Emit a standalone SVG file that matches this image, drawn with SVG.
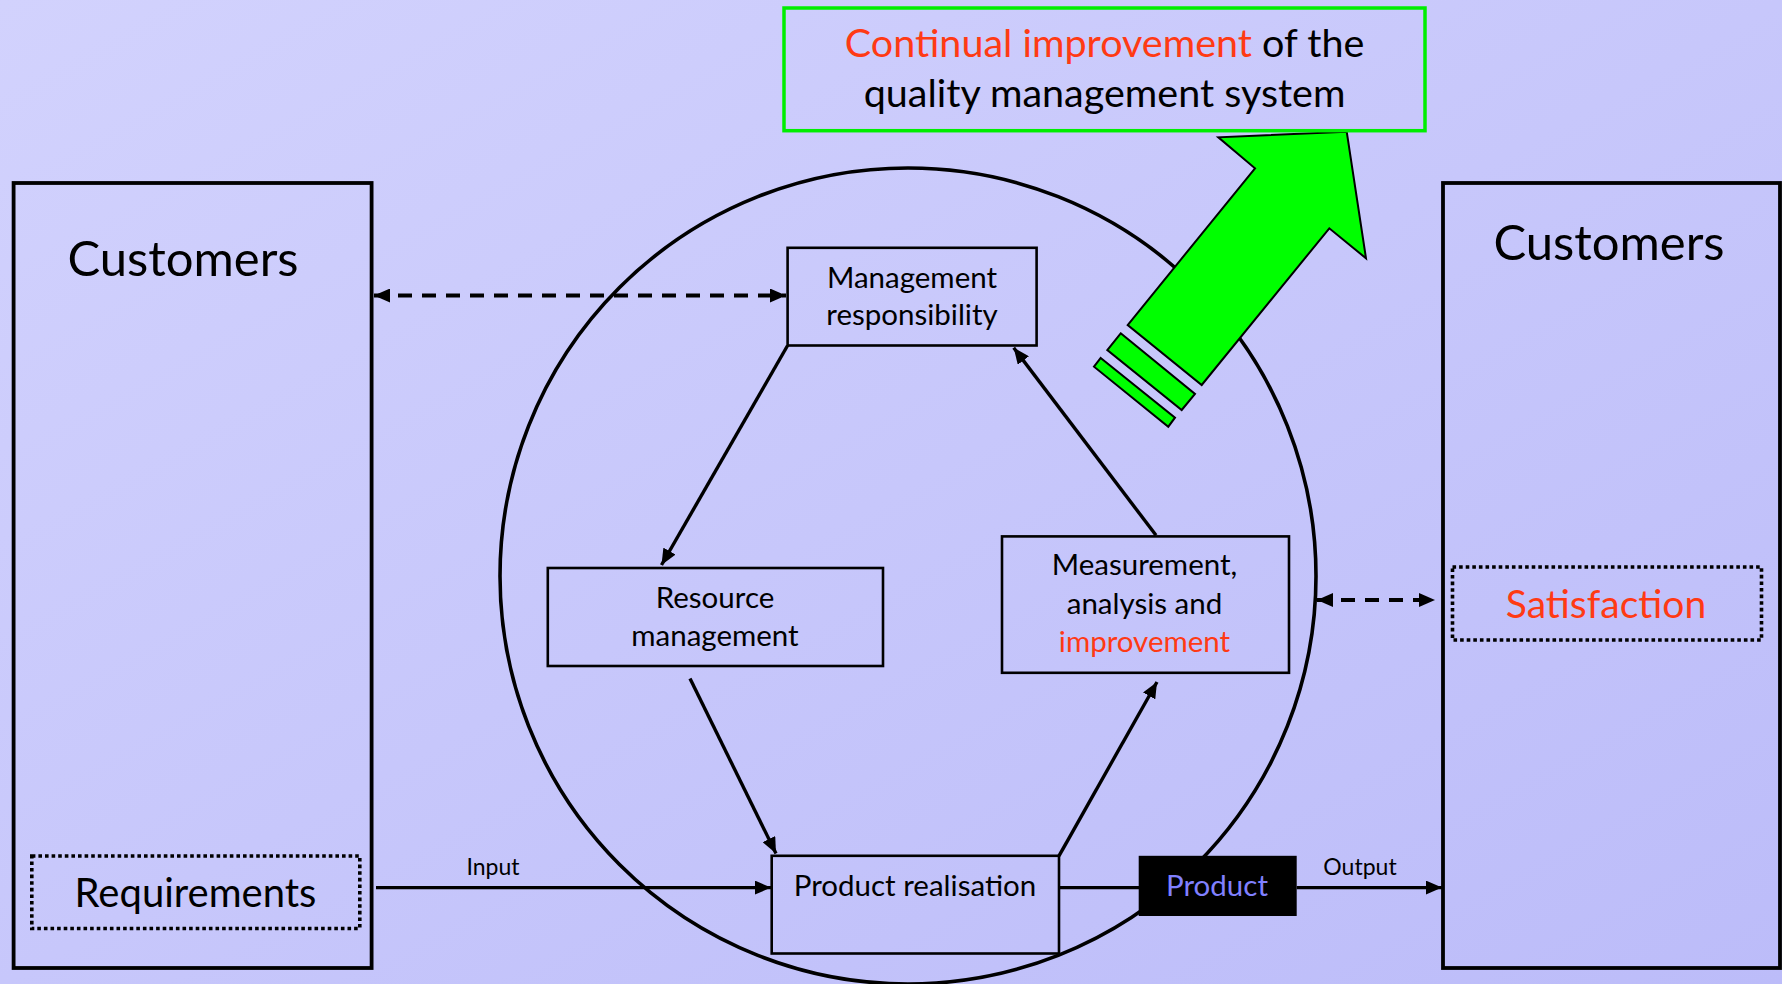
<svg xmlns="http://www.w3.org/2000/svg" width="1782" height="984" viewBox="0 0 1782 984">
<defs>
<linearGradient id="bg" x1="0" y1="0" x2="1" y2="1">
<stop offset="0" stop-color="#d2d2fd"/>
<stop offset="1" stop-color="#bcbcf9"/>
</linearGradient>
<marker id="arr" viewBox="0 0 16 14" refX="16" refY="7" markerWidth="16" markerHeight="14" markerUnits="userSpaceOnUse" orient="auto-start-reverse">
<path d="M0,0 L16,7 L0,14 z" fill="#000"/>
</marker>
<style>
.t{font-family:Lato,"Liberation Sans",sans-serif;fill:#000;text-anchor:middle}
.red{fill:#ff3a14}
.box{fill:none;stroke:#000;stroke-width:2.6}
.cust{fill:none;stroke:#000;stroke-width:3.8}
.dot{fill:none;stroke:#000;stroke-width:3.6;stroke-dasharray:3.6 3}
.ln{fill:none;stroke:#000;stroke-width:3.4}
.dash{fill:none;stroke:#000;stroke-width:4;stroke-dasharray:14 10}
.green{fill:#00ff00;stroke:#000;stroke-width:2}
</style>
</defs>
<rect x="0" y="0" width="1782" height="984" fill="url(#bg)"/>

<g id="circle">
<circle cx="908" cy="576" r="408" fill="none" stroke="#000" stroke-width="3.6"/>
</g>

<g id="connectors">
<line class="dash" x1="374" y1="295.5" x2="786" y2="295.5" marker-start="url(#arr)" marker-end="url(#arr)"/>
<line class="dash" x1="1317" y1="600" x2="1435" y2="600" marker-start="url(#arr)" marker-end="url(#arr)"/>
<line class="ln" x1="787.6" y1="345.5" x2="661.5" y2="565" marker-end="url(#arr)"/>
<line class="ln" x1="690" y1="678.5" x2="776" y2="853.5" marker-end="url(#arr)"/>
<line class="ln" x1="1059" y1="855.8" x2="1157" y2="682" marker-end="url(#arr)"/>
<line class="ln" x1="1156" y1="535.3" x2="1013.7" y2="347.8" marker-end="url(#arr)"/>
<line class="ln" x1="376" y1="887.6" x2="771" y2="887.6" marker-end="url(#arr)"/>
<line class="ln" x1="1059" y1="887.6" x2="1139" y2="887.6"/>
<line class="ln" x1="1296.7" y1="887.6" x2="1442" y2="887.6" marker-end="url(#arr)"/>
<text class="t" x="493" y="875" font-size="23">Input</text>
<text class="t" x="1360" y="875" font-size="23">Output</text>
</g>

<g id="customers-left">
<rect class="cust" x="13.6" y="183" width="358" height="785"/>
<text class="t" x="183" y="276" font-size="49">Customers</text>
</g>
<g id="requirements">
<rect class="dot" x="31.8" y="856" width="328" height="72.5"/>
<text class="t" x="195.5" y="907" font-size="40">Requirements</text>
</g>

<g id="customers-right">
<rect class="cust" x="1443" y="183" width="337" height="785"/>
<text class="t" x="1609" y="260" font-size="49">Customers</text>
</g>
<g id="satisfaction">
<rect class="dot" x="1452.5" y="567" width="309" height="73"/>
<text class="t red" x="1606" y="618" font-size="39">Satisfaction</text>
</g>

<g id="management">
<rect class="box" x="787.6" y="247.8" width="249" height="97.7"/>
<text class="t" x="912" y="287.5" font-size="29.5">Management</text>
<text class="t" x="912" y="325" font-size="29.5">responsibility</text>
</g>

<g id="resource">
<rect class="box" x="547.8" y="568" width="335.2" height="98"/>
<text class="t" x="715" y="608" font-size="29.5">Resource</text>
<text class="t" x="715" y="645.5" font-size="29.5">management</text>
</g>

<g id="measurement">
<rect class="box" x="1002" y="536.4" width="287" height="136.4"/>
<text class="t" x="1144.5" y="575" font-size="29.5">Measurement,</text>
<text class="t" x="1144.5" y="613.7" font-size="29.5">analysis and</text>
<text class="t red" x="1144.5" y="652.4" font-size="29.5">improvement</text>
</g>

<g id="product-realisation">
<rect class="box" x="771.7" y="855.8" width="287.3" height="97.7"/>
<text class="t" x="915" y="895.6" font-size="29.5">Product realisation</text>
</g>

<g id="product">
<rect x="1138.7" y="855.8" width="158" height="60.2" fill="#000"/>
<text class="t" x="1217" y="895.6" font-size="29.5" style="fill:#8080ff">Product</text>
</g>

<g id="improvement-arrow">
<polygon class="green" points="1346.7,131.7 1366,258.3 1329.3,228.3 1201.7,385 1127.7,325 1255,168.3 1218.3,137.3"/>
<polygon class="green" points="1120.7,333.3 1195,394 1181.7,410 1107.3,350"/>
<polygon class="green" points="1100.7,358 1175,417.7 1168.3,426.7 1094,366.7"/>
</g>

<g id="continual-improvement">
<rect x="784" y="8" width="641" height="122.7" fill="none" stroke="#00ee00" stroke-width="3.5"/>
<text class="t" x="1104.6" y="57" font-size="39.5"><tspan class="red">Continual improvement</tspan> of the</text>
<text class="t" x="1104.6" y="107" font-size="39.5">quality management system</text>
</g>
</svg>
